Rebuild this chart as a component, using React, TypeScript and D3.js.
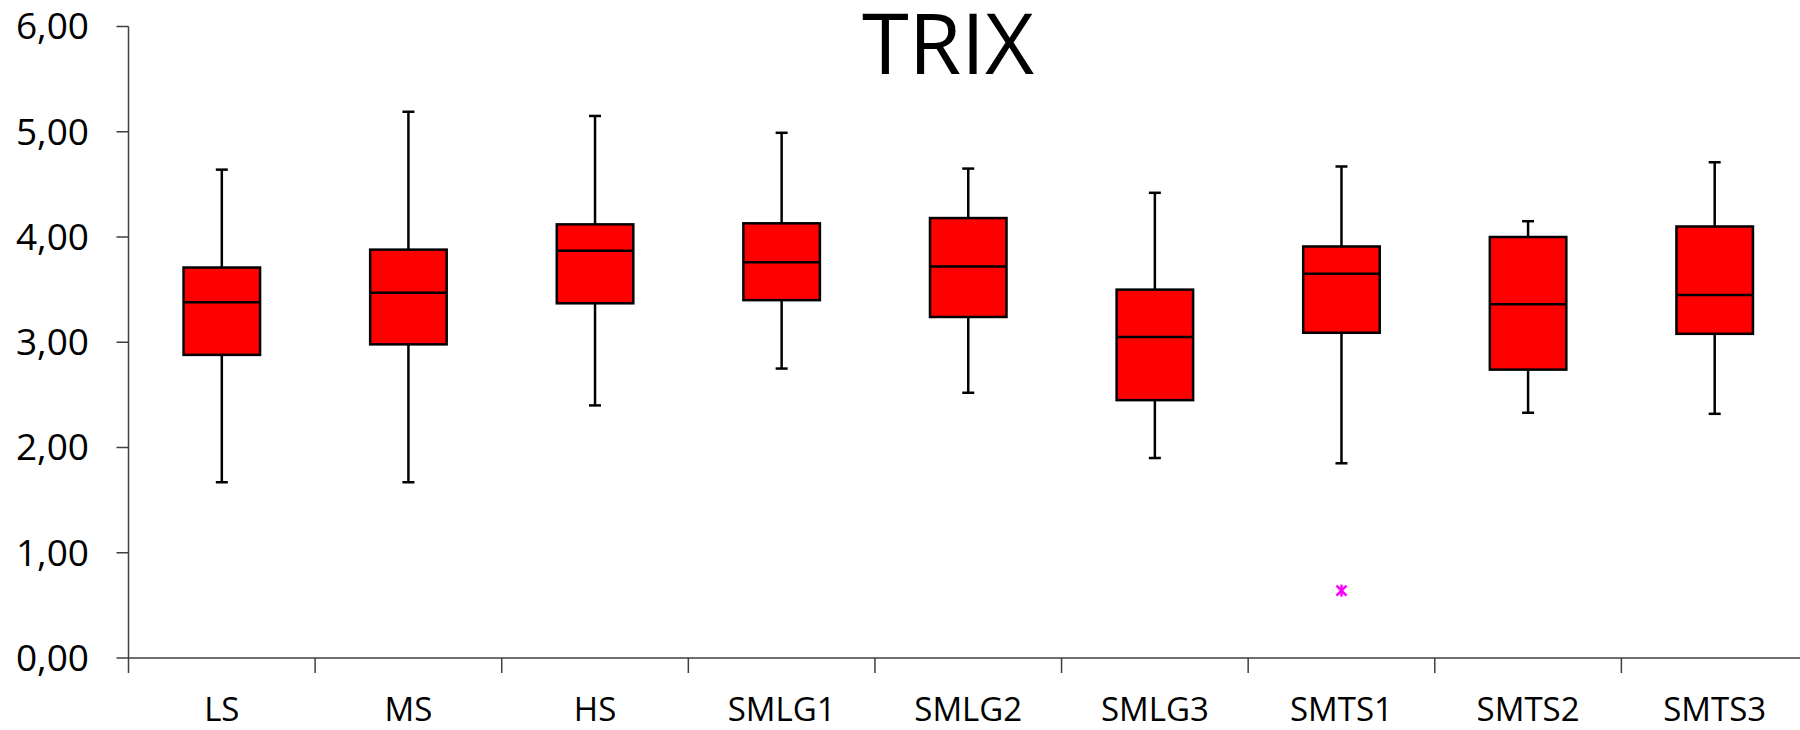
import React, { useMemo } from "react";
import * as d3 from "d3";

const WIDTH = 1800;
const HEIGHT = 730;

const categories = ["LS", "MS", "HS", "SMLG1", "SMLG2", "SMLG3", "SMTS1", "SMTS2", "SMTS3"];
const whiskerMax = [4.64, 5.19, 5.15, 4.99, 4.65, 4.42, 4.67, 4.15, 4.71];
const q3 = [3.71, 3.88, 4.12, 4.13, 4.18, 3.5, 3.91, 4.0, 4.1];
const median = [3.38, 3.47, 3.87, 3.76, 3.72, 3.05, 3.65, 3.36, 3.45];
const q1 = [2.88, 2.98, 3.37, 3.4, 3.24, 2.45, 3.09, 2.74, 3.08];
const whiskerMin = [1.67, 1.67, 2.4, 2.75, 2.52, 1.9, 1.85, 2.33, 2.32];
// outliers: [category, value]
const outliers: [string, number][] = [["SMTS1", 0.64]];
const yTicks = [0, 1, 2, 3, 4, 5, 6];

const left = 128.5;
const right = 1808;
const top = 26.5;
const bottom = 658;

const FONT = "'Open Sans', 'Noto Sans', sans-serif";
const AXIS = "#3f3f3f";

export default function App() {
  const x = useMemo(
    () => d3.scaleBand<string>().domain(categories).range([left, right]).padding(0),
    []
  );
  const y = useMemo(() => d3.scaleLinear().domain([0, 6]).range([bottom, top]), []);
  const fmt = (v: number) => d3.format(".2f")(v).replace(".", ",");

  const boxW = x.bandwidth() * 0.41;
  const capW = 12;

  return (
    <svg width={WIDTH} height={HEIGHT} style={{ display: "block", position: "absolute", left: 0, top: 0, overflow: "hidden" }}>
      <rect width={WIDTH} height={HEIGHT} fill="#fff" />
      <text x={948} y={74} textAnchor="middle" fontFamily={FONT} fontSize={85} fill="#000">
        TRIX
      </text>

      {/* y axis */}
      <line x1={left} x2={left} y1={top} y2={bottom + 15} stroke={AXIS} strokeWidth={1.5} />
      {yTicks.map((t) => (
        <g key={t}>
          <line x1={left - 12} x2={left} y1={y(t)} y2={y(t)} stroke={AXIS} strokeWidth={1.5} />
          <text
            x={89}
            y={y(t)}
            dy="0.35em"
            textAnchor="end"
            fontFamily={FONT}
            fontSize={37}
            fill="#000"
          >
            {fmt(t)}
          </text>
        </g>
      ))}

      {/* x axis */}
      <line x1={left} x2={right} y1={bottom} y2={bottom} stroke={AXIS} strokeWidth={1.5} />
      {categories.map((c) => (
        <line
          key={"t" + c}
          x1={(x(c) as number) + x.bandwidth()}
          x2={(x(c) as number) + x.bandwidth()}
          y1={bottom}
          y2={bottom + 15}
          stroke={AXIS}
          strokeWidth={1.5}
        />
      ))}
      {categories.map((c) => (
        <text
          key={"l" + c}
          x={(x(c) as number) + x.bandwidth() / 2}
          y={721}
          textAnchor="middle"
          fontFamily={FONT}
          fontSize={33}
          fill="#000"
        >
          {c}
        </text>
      ))}

      {/* boxes */}
      {categories.map((c, i) => {
        const cx = (x(c) as number) + x.bandwidth() / 2;
        return (
          <g key={"b" + c} stroke="#000">
            <line x1={cx} x2={cx} y1={y(whiskerMax[i])} y2={y(q3[i])} strokeWidth={2.5} />
            <line x1={cx} x2={cx} y1={y(q1[i])} y2={y(whiskerMin[i])} strokeWidth={2.5} />
            <line x1={cx - capW / 2} x2={cx + capW / 2} y1={y(whiskerMax[i])} y2={y(whiskerMax[i])} strokeWidth={2.5} />
            <line x1={cx - capW / 2} x2={cx + capW / 2} y1={y(whiskerMin[i])} y2={y(whiskerMin[i])} strokeWidth={2.5} />
            <rect
              x={cx - boxW / 2}
              y={y(q3[i])}
              width={boxW}
              height={y(q1[i]) - y(q3[i])}
              fill="#ff0000"
              strokeWidth={2.5}
            />
            <line x1={cx - boxW / 2} x2={cx + boxW / 2} y1={y(median[i])} y2={y(median[i])} strokeWidth={2.5} />
          </g>
        );
      })}

      {/* outliers */}
      {outliers.map(([c, v]) => {
        const cx = (x(c) as number) + x.bandwidth() / 2;
        const cy = y(v);
        const s = 5;
        return (
          <g key={"o" + c} stroke="#ff00ff" strokeWidth={2.5}>
            <line x1={cx - s} x2={cx + s} y1={cy - s} y2={cy + s} />
            <line x1={cx - s} x2={cx + s} y1={cy + s} y2={cy - s} />
            <line x1={cx} x2={cx} y1={cy - s - 1} y2={cy + s + 1} />
          </g>
        );
      })}
    </svg>
  );
}
